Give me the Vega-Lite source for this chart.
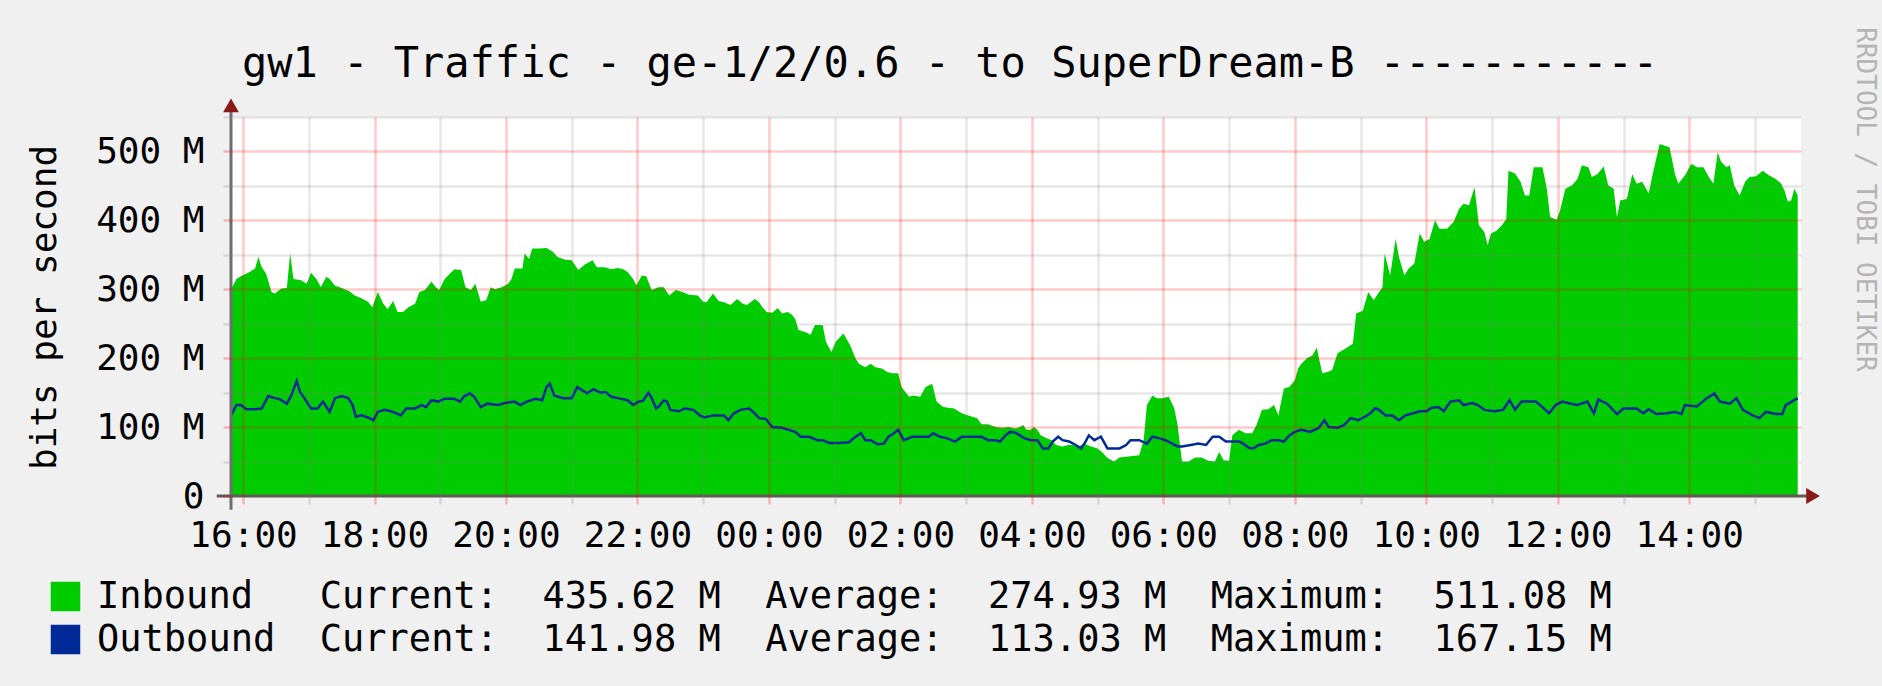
{
  "$schema": "https://vega.github.io/schema/vega-lite/v6.json",
  "width": 1570,
  "height": 379,
  "autosize": {"type": "none"},
  "padding": {"left": 231, "top": 117, "right": 81, "bottom": 190},
  "background": "#f0f0f0",
  "config": {"view": {"stroke": null, "fill": "#ffffff"}, "font": "DejaVu Sans Mono"},
  "title": {"text": "gw1 - Traffic - ge-1/2/0.6 - to SuperDream-B -----------", "frame": "group", "anchor": "middle", "dx": -66, "offset": -92, "baseline": "alphabetic", "font": "DejaVu Sans Mono", "fontSize": 42, "fontWeight": "normal", "color": "#000000"},
  "datasets": {
    "inbound": [
      {"t":"2024-01-01T15:49Z","v":300},{"t":"2024-01-01T15:54Z","v":315},{"t":"2024-01-01T15:58Z","v":319},{"t":"2024-01-01T16:06Z","v":325},{"t":"2024-01-01T16:11Z","v":330},{"t":"2024-01-01T16:14Z","v":347},{"t":"2024-01-01T16:17Z","v":332},{"t":"2024-01-01T16:21Z","v":323},{"t":"2024-01-01T16:26Z","v":296},{"t":"2024-01-01T16:29Z","v":294},{"t":"2024-01-01T16:35Z","v":301},{"t":"2024-01-01T16:40Z","v":302},{"t":"2024-01-01T16:43Z","v":352},{"t":"2024-01-01T16:46Z","v":315},{"t":"2024-01-01T16:53Z","v":313},{"t":"2024-01-01T16:58Z","v":308},{"t":"2024-01-01T17:02Z","v":324},{"t":"2024-01-01T17:07Z","v":315},{"t":"2024-01-01T17:11Z","v":303},{"t":"2024-01-01T17:16Z","v":318},{"t":"2024-01-01T17:19Z","v":315},{"t":"2024-01-01T17:24Z","v":305},{"t":"2024-01-01T17:30Z","v":302},{"t":"2024-01-01T17:37Z","v":297},{"t":"2024-01-01T17:42Z","v":291},{"t":"2024-01-01T17:48Z","v":287},{"t":"2024-01-01T17:54Z","v":282},{"t":"2024-01-01T17:58Z","v":274},{"t":"2024-01-01T18:03Z","v":296},{"t":"2024-01-01T18:08Z","v":279},{"t":"2024-01-01T18:12Z","v":271},{"t":"2024-01-01T18:17Z","v":283},{"t":"2024-01-01T18:21Z","v":267},{"t":"2024-01-01T18:26Z","v":267},{"t":"2024-01-01T18:31Z","v":274},{"t":"2024-01-01T18:37Z","v":279},{"t":"2024-01-01T18:41Z","v":296},{"t":"2024-01-01T18:46Z","v":299},{"t":"2024-01-01T18:52Z","v":311},{"t":"2024-01-01T18:56Z","v":303},{"t":"2024-01-01T18:59Z","v":299},{"t":"2024-01-01T19:04Z","v":315},{"t":"2024-01-01T19:09Z","v":323},{"t":"2024-01-01T19:13Z","v":329},{"t":"2024-01-01T19:19Z","v":328},{"t":"2024-01-01T19:23Z","v":303},{"t":"2024-01-01T19:28Z","v":299},{"t":"2024-01-01T19:32Z","v":308},{"t":"2024-01-01T19:37Z","v":282},{"t":"2024-01-01T19:42Z","v":284},{"t":"2024-01-01T19:46Z","v":303},{"t":"2024-01-01T19:50Z","v":300},{"t":"2024-01-01T19:56Z","v":303},{"t":"2024-01-01T20:02Z","v":308},{"t":"2024-01-01T20:05Z","v":315},{"t":"2024-01-01T20:08Z","v":330},{"t":"2024-01-01T20:15Z","v":330},{"t":"2024-01-01T20:17Z","v":352},{"t":"2024-01-01T20:21Z","v":344},{"t":"2024-01-01T20:24Z","v":359},{"t":"2024-01-01T20:30Z","v":359},{"t":"2024-01-01T20:37Z","v":360},{"t":"2024-01-01T20:43Z","v":354},{"t":"2024-01-01T20:47Z","v":347},{"t":"2024-01-01T20:54Z","v":343},{"t":"2024-01-01T21:00Z","v":342},{"t":"2024-01-01T21:06Z","v":328},{"t":"2024-01-01T21:12Z","v":336},{"t":"2024-01-01T21:19Z","v":342},{"t":"2024-01-01T21:23Z","v":332},{"t":"2024-01-01T21:30Z","v":332},{"t":"2024-01-01T21:36Z","v":329},{"t":"2024-01-01T21:42Z","v":331},{"t":"2024-01-01T21:47Z","v":329},{"t":"2024-01-01T21:51Z","v":325},{"t":"2024-01-01T21:56Z","v":315},{"t":"2024-01-01T21:59Z","v":306},{"t":"2024-01-01T22:04Z","v":320},{"t":"2024-01-01T22:08Z","v":319},{"t":"2024-01-01T22:13Z","v":299},{"t":"2024-01-01T22:19Z","v":303},{"t":"2024-01-01T22:24Z","v":303},{"t":"2024-01-01T22:29Z","v":291},{"t":"2024-01-01T22:35Z","v":299},{"t":"2024-01-01T22:41Z","v":296},{"t":"2024-01-01T22:47Z","v":292},{"t":"2024-01-01T22:55Z","v":291},{"t":"2024-01-01T23:00Z","v":282},{"t":"2024-01-01T23:03Z","v":281},{"t":"2024-01-01T23:09Z","v":294},{"t":"2024-01-01T23:14Z","v":283},{"t":"2024-01-01T23:19Z","v":281},{"t":"2024-01-01T23:25Z","v":277},{"t":"2024-01-01T23:31Z","v":286},{"t":"2024-01-01T23:36Z","v":279},{"t":"2024-01-01T23:40Z","v":277},{"t":"2024-01-01T23:47Z","v":286},{"t":"2024-01-01T23:51Z","v":281},{"t":"2024-01-01T23:54Z","v":274},{"t":"2024-01-01T23:58Z","v":267},
      {"t":"2024-01-02T00:03Z","v":266},{"t":"2024-01-02T00:08Z","v":273},{"t":"2024-01-02T00:12Z","v":265},{"t":"2024-01-02T00:17Z","v":267},{"t":"2024-01-02T00:21Z","v":263},{"t":"2024-01-02T00:24Z","v":257},{"t":"2024-01-02T00:27Z","v":241},{"t":"2024-01-02T00:33Z","v":238},{"t":"2024-01-02T00:38Z","v":234},{"t":"2024-01-02T00:42Z","v":248},{"t":"2024-01-02T00:49Z","v":248},{"t":"2024-01-02T00:52Z","v":224},{"t":"2024-01-02T00:57Z","v":209},{"t":"2024-01-02T01:01Z","v":224},{"t":"2024-01-02T01:08Z","v":236},{"t":"2024-01-02T01:14Z","v":219},{"t":"2024-01-02T01:19Z","v":200},{"t":"2024-01-02T01:22Z","v":192},{"t":"2024-01-02T01:28Z","v":187},{"t":"2024-01-02T01:33Z","v":192},{"t":"2024-01-02T01:37Z","v":187},{"t":"2024-01-02T01:43Z","v":185},{"t":"2024-01-02T01:48Z","v":180},{"t":"2024-01-02T01:52Z","v":178},{"t":"2024-01-02T01:58Z","v":178},{"t":"2024-01-02T02:01Z","v":158},{"t":"2024-01-02T02:08Z","v":144},{"t":"2024-01-02T02:12Z","v":146},{"t":"2024-01-02T02:18Z","v":144},{"t":"2024-01-02T02:23Z","v":158},{"t":"2024-01-02T02:29Z","v":163},{"t":"2024-01-02T02:33Z","v":137},{"t":"2024-01-02T02:39Z","v":129},{"t":"2024-01-02T02:49Z","v":127},{"t":"2024-01-02T02:56Z","v":120},{"t":"2024-01-02T03:02Z","v":117},{"t":"2024-01-02T03:10Z","v":113},{"t":"2024-01-02T03:14Z","v":104},{"t":"2024-01-02T03:20Z","v":104},{"t":"2024-01-02T03:27Z","v":100},{"t":"2024-01-02T03:33Z","v":99},{"t":"2024-01-02T03:39Z","v":100},{"t":"2024-01-02T03:45Z","v":98},{"t":"2024-01-02T03:49Z","v":100},{"t":"2024-01-02T03:52Z","v":103},{"t":"2024-01-02T03:55Z","v":96},{"t":"2024-01-02T03:59Z","v":96},{"t":"2024-01-02T04:02Z","v":100},{"t":"2024-01-02T04:05Z","v":96},{"t":"2024-01-02T04:08Z","v":88},{"t":"2024-01-02T04:13Z","v":84},{"t":"2024-01-02T04:18Z","v":81},{"t":"2024-01-02T04:22Z","v":74},{"t":"2024-01-02T04:28Z","v":72},{"t":"2024-01-02T04:33Z","v":74},{"t":"2024-01-02T04:37Z","v":74},{"t":"2024-01-02T04:42Z","v":72},{"t":"2024-01-02T04:48Z","v":76},{"t":"2024-01-02T04:54Z","v":72},{"t":"2024-01-02T05:00Z","v":69},{"t":"2024-01-02T05:04Z","v":64},{"t":"2024-01-02T05:09Z","v":55},{"t":"2024-01-02T05:15Z","v":50},{"t":"2024-01-02T05:20Z","v":56},{"t":"2024-01-02T05:26Z","v":57},{"t":"2024-01-02T05:32Z","v":58},{"t":"2024-01-02T05:38Z","v":59},{"t":"2024-01-02T05:42Z","v":81},{"t":"2024-01-02T05:45Z","v":132},{"t":"2024-01-02T05:50Z","v":146},{"t":"2024-01-02T05:54Z","v":142},{"t":"2024-01-02T05:59Z","v":142},{"t":"2024-01-02T06:05Z","v":144},{"t":"2024-01-02T06:10Z","v":127},{"t":"2024-01-02T06:13Z","v":103},{"t":"2024-01-02T06:17Z","v":50},{"t":"2024-01-02T06:23Z","v":50},{"t":"2024-01-02T06:29Z","v":56},{"t":"2024-01-02T06:35Z","v":56},{"t":"2024-01-02T06:41Z","v":51},{"t":"2024-01-02T06:47Z","v":50},{"t":"2024-01-02T06:51Z","v":64},{"t":"2024-01-02T06:55Z","v":52},{"t":"2024-01-02T07:00Z","v":51},{"t":"2024-01-02T07:03Z","v":88},{"t":"2024-01-02T07:09Z","v":96},{"t":"2024-01-02T07:15Z","v":91},{"t":"2024-01-02T07:21Z","v":91},{"t":"2024-01-02T07:25Z","v":103},{"t":"2024-01-02T07:30Z","v":125},{"t":"2024-01-02T07:36Z","v":126},{"t":"2024-01-02T07:41Z","v":132},{"t":"2024-01-02T07:45Z","v":117},{"t":"2024-01-02T07:50Z","v":156},{"t":"2024-01-02T07:55Z","v":158},{"t":"2024-01-02T08:00Z","v":168},{"t":"2024-01-02T08:03Z","v":185},{"t":"2024-01-02T08:06Z","v":192},{"t":"2024-01-02T08:11Z","v":200},{"t":"2024-01-02T08:16Z","v":204},{"t":"2024-01-02T08:20Z","v":215},{"t":"2024-01-02T08:25Z","v":178},{"t":"2024-01-02T08:30Z","v":180},{"t":"2024-01-02T08:34Z","v":183},{"t":"2024-01-02T08:39Z","v":207},{"t":"2024-01-02T08:44Z","v":212},{"t":"2024-01-02T08:48Z","v":216},{"t":"2024-01-02T08:53Z","v":221},{"t":"2024-01-02T08:56Z","v":265},{"t":"2024-01-02T09:02Z","v":269},{"t":"2024-01-02T09:07Z","v":296},{"t":"2024-01-02T09:12Z","v":284},{"t":"2024-01-02T09:16Z","v":294},{"t":"2024-01-02T09:20Z","v":303},{"t":"2024-01-02T09:22Z","v":352},{"t":"2024-01-02T09:27Z","v":320},{"t":"2024-01-02T09:32Z","v":373},{"t":"2024-01-02T09:35Z","v":347},{"t":"2024-01-02T09:40Z","v":320},{"t":"2024-01-02T09:44Z","v":330},{"t":"2024-01-02T09:49Z","v":337},{"t":"2024-01-02T09:54Z","v":381},{"t":"2024-01-02T09:58Z","v":369},{"t":"2024-01-02T10:03Z","v":373},{"t":"2024-01-02T10:08Z","v":400},{"t":"2024-01-02T10:12Z","v":388},{"t":"2024-01-02T10:19Z","v":388},{"t":"2024-01-02T10:25Z","v":398},{"t":"2024-01-02T10:30Z","v":417},{"t":"2024-01-02T10:34Z","v":424},{"t":"2024-01-02T10:39Z","v":422},{"t":"2024-01-02T10:44Z","v":448},{"t":"2024-01-02T10:48Z","v":393},{"t":"2024-01-02T10:53Z","v":383},{"t":"2024-01-02T10:56Z","v":364},{"t":"2024-01-02T10:59Z","v":381},{"t":"2024-01-02T11:04Z","v":385},{"t":"2024-01-02T11:09Z","v":393},{"t":"2024-01-02T11:13Z","v":402},{"t":"2024-01-02T11:15Z","v":472},{"t":"2024-01-02T11:21Z","v":468},{"t":"2024-01-02T11:26Z","v":456},{"t":"2024-01-02T11:30Z","v":436},{"t":"2024-01-02T11:34Z","v":436},{"t":"2024-01-02T11:38Z","v":477},{"t":"2024-01-02T11:46Z","v":477},{"t":"2024-01-02T11:50Z","v":446},{"t":"2024-01-02T11:53Z","v":405},{"t":"2024-01-02T11:59Z","v":401},{"t":"2024-01-02T12:02Z","v":414},{"t":"2024-01-02T12:07Z","v":446},{"t":"2024-01-02T12:13Z","v":451},{"t":"2024-01-02T12:18Z","v":460},{"t":"2024-01-02T12:22Z","v":480},{"t":"2024-01-02T12:28Z","v":477},{"t":"2024-01-02T12:31Z","v":463},{"t":"2024-01-02T12:36Z","v":467},{"t":"2024-01-02T12:42Z","v":478},{"t":"2024-01-02T12:46Z","v":451},{"t":"2024-01-02T12:51Z","v":446},{"t":"2024-01-02T12:54Z","v":405},{"t":"2024-01-02T12:57Z","v":429},{"t":"2024-01-02T13:03Z","v":431},{"t":"2024-01-02T13:08Z","v":467},{"t":"2024-01-02T13:12Z","v":453},{"t":"2024-01-02T13:17Z","v":456},{"t":"2024-01-02T13:23Z","v":439},{"t":"2024-01-02T13:27Z","v":470},{"t":"2024-01-02T13:33Z","v":511},{"t":"2024-01-02T13:42Z","v":506},{"t":"2024-01-02T13:47Z","v":467},{"t":"2024-01-02T13:50Z","v":453},{"t":"2024-01-02T13:56Z","v":465},{"t":"2024-01-02T14:02Z","v":482},{"t":"2024-01-02T14:07Z","v":477},{"t":"2024-01-02T14:13Z","v":477},{"t":"2024-01-02T14:17Z","v":465},{"t":"2024-01-02T14:22Z","v":453},{"t":"2024-01-02T14:26Z","v":499},{"t":"2024-01-02T14:29Z","v":485},{"t":"2024-01-02T14:34Z","v":477},{"t":"2024-01-02T14:37Z","v":480},{"t":"2024-01-02T14:41Z","v":451},{"t":"2024-01-02T14:46Z","v":436},{"t":"2024-01-02T14:51Z","v":456},{"t":"2024-01-02T14:55Z","v":463},{"t":"2024-01-02T15:01Z","v":464},{"t":"2024-01-02T15:07Z","v":472},{"t":"2024-01-02T15:13Z","v":465},{"t":"2024-01-02T15:19Z","v":460},{"t":"2024-01-02T15:24Z","v":453},{"t":"2024-01-02T15:27Z","v":443},{"t":"2024-01-02T15:30Z","v":427},{"t":"2024-01-02T15:33Z","v":429},{"t":"2024-01-02T15:36Z","v":446},{"t":"2024-01-02T15:39Z","v":436}
    ],
    "outbound": [
      {"t":"2024-01-01T15:49Z","v":117},{"t":"2024-01-01T15:54Z","v":132},{"t":"2024-01-01T15:58Z","v":132},{"t":"2024-01-01T16:03Z","v":126},{"t":"2024-01-01T16:11Z","v":126},{"t":"2024-01-01T16:17Z","v":127},{"t":"2024-01-01T16:23Z","v":145},{"t":"2024-01-01T16:29Z","v":142},{"t":"2024-01-01T16:33Z","v":141},{"t":"2024-01-01T16:40Z","v":134},{"t":"2024-01-01T16:44Z","v":146},{"t":"2024-01-01T16:49Z","v":167},{"t":"2024-01-01T16:52Z","v":151},{"t":"2024-01-01T16:56Z","v":142},{"t":"2024-01-01T17:02Z","v":127},{"t":"2024-01-01T17:08Z","v":127},{"t":"2024-01-01T17:13Z","v":137},{"t":"2024-01-01T17:19Z","v":122},{"t":"2024-01-01T17:24Z","v":142},{"t":"2024-01-01T17:30Z","v":145},{"t":"2024-01-01T17:36Z","v":142},{"t":"2024-01-01T17:40Z","v":132},{"t":"2024-01-01T17:43Z","v":115},{"t":"2024-01-01T17:48Z","v":117},{"t":"2024-01-01T17:54Z","v":114},{"t":"2024-01-01T17:59Z","v":110},{"t":"2024-01-01T18:03Z","v":122},{"t":"2024-01-01T18:09Z","v":125},{"t":"2024-01-01T18:15Z","v":123},{"t":"2024-01-01T18:20Z","v":120},{"t":"2024-01-01T18:24Z","v":117},{"t":"2024-01-01T18:29Z","v":127},{"t":"2024-01-01T18:37Z","v":127},{"t":"2024-01-01T18:43Z","v":132},{"t":"2024-01-01T18:47Z","v":129},{"t":"2024-01-01T18:52Z","v":139},{"t":"2024-01-01T18:58Z","v":137},{"t":"2024-01-01T19:04Z","v":141},{"t":"2024-01-01T19:13Z","v":141},{"t":"2024-01-01T19:18Z","v":137},{"t":"2024-01-01T19:22Z","v":145},{"t":"2024-01-01T19:27Z","v":149},{"t":"2024-01-01T19:31Z","v":144},{"t":"2024-01-01T19:37Z","v":129},{"t":"2024-01-01T19:43Z","v":134},{"t":"2024-01-01T19:53Z","v":132},{"t":"2024-01-01T19:59Z","v":135},{"t":"2024-01-01T20:08Z","v":137},{"t":"2024-01-01T20:13Z","v":132},{"t":"2024-01-01T20:19Z","v":137},{"t":"2024-01-01T20:27Z","v":141},{"t":"2024-01-01T20:33Z","v":139},{"t":"2024-01-01T20:37Z","v":158},{"t":"2024-01-01T20:40Z","v":163},{"t":"2024-01-01T20:44Z","v":146},{"t":"2024-01-01T20:52Z","v":142},{"t":"2024-01-01T21:00Z","v":142},{"t":"2024-01-01T21:05Z","v":158},{"t":"2024-01-01T21:09Z","v":154},{"t":"2024-01-01T21:14Z","v":149},{"t":"2024-01-01T21:20Z","v":155},{"t":"2024-01-01T21:26Z","v":150},{"t":"2024-01-01T21:31Z","v":151},{"t":"2024-01-01T21:36Z","v":144},{"t":"2024-01-01T21:42Z","v":142},{"t":"2024-01-01T21:51Z","v":139},{"t":"2024-01-01T21:56Z","v":132},{"t":"2024-01-01T22:01Z","v":137},{"t":"2024-01-01T22:05Z","v":138},{"t":"2024-01-01T22:10Z","v":150},{"t":"2024-01-01T22:13Z","v":142},{"t":"2024-01-01T22:17Z","v":127},{"t":"2024-01-01T22:19Z","v":129},{"t":"2024-01-01T22:24Z","v":139},{"t":"2024-01-01T22:27Z","v":137},{"t":"2024-01-01T22:30Z","v":125},{"t":"2024-01-01T22:38Z","v":123},{"t":"2024-01-01T22:43Z","v":127},{"t":"2024-01-01T22:51Z","v":125},{"t":"2024-01-01T22:57Z","v":117},{"t":"2024-01-01T23:01Z","v":114},{"t":"2024-01-01T23:09Z","v":117},{"t":"2024-01-01T23:19Z","v":117},{"t":"2024-01-01T23:23Z","v":110},{"t":"2024-01-01T23:28Z","v":120},{"t":"2024-01-01T23:34Z","v":125},{"t":"2024-01-01T23:42Z","v":127},{"t":"2024-01-01T23:47Z","v":120},{"t":"2024-01-01T23:51Z","v":113},{"t":"2024-01-01T23:57Z","v":112},
      {"t":"2024-01-02T00:03Z","v":100},{"t":"2024-01-02T00:12Z","v":99},{"t":"2024-01-02T00:18Z","v":96},{"t":"2024-01-02T00:24Z","v":93},{"t":"2024-01-02T00:29Z","v":86},{"t":"2024-01-02T00:37Z","v":86},{"t":"2024-01-02T00:44Z","v":81},{"t":"2024-01-02T00:49Z","v":81},{"t":"2024-01-02T00:55Z","v":77},{"t":"2024-01-02T01:04Z","v":77},{"t":"2024-01-02T01:13Z","v":78},{"t":"2024-01-02T01:19Z","v":86},{"t":"2024-01-02T01:24Z","v":91},{"t":"2024-01-02T01:28Z","v":81},{"t":"2024-01-02T01:33Z","v":81},{"t":"2024-01-02T01:39Z","v":75},{"t":"2024-01-02T01:45Z","v":76},{"t":"2024-01-02T01:49Z","v":86},{"t":"2024-01-02T01:54Z","v":91},{"t":"2024-01-02T01:58Z","v":96},{"t":"2024-01-02T02:03Z","v":81},{"t":"2024-01-02T02:11Z","v":86},{"t":"2024-01-02T02:20Z","v":86},{"t":"2024-01-02T02:26Z","v":86},{"t":"2024-01-02T02:30Z","v":91},{"t":"2024-01-02T02:36Z","v":86},{"t":"2024-01-02T02:42Z","v":84},{"t":"2024-01-02T02:50Z","v":79},{"t":"2024-01-02T02:56Z","v":86},{"t":"2024-01-02T03:05Z","v":86},{"t":"2024-01-02T03:14Z","v":86},{"t":"2024-01-02T03:20Z","v":81},{"t":"2024-01-02T03:27Z","v":81},{"t":"2024-01-02T03:31Z","v":79},{"t":"2024-01-02T03:36Z","v":88},{"t":"2024-01-02T03:40Z","v":93},{"t":"2024-01-02T03:45Z","v":92},{"t":"2024-01-02T03:49Z","v":88},{"t":"2024-01-02T03:53Z","v":84},{"t":"2024-01-02T03:59Z","v":81},{"t":"2024-01-02T04:05Z","v":81},{"t":"2024-01-02T04:10Z","v":69},{"t":"2024-01-02T04:15Z","v":69},{"t":"2024-01-02T04:19Z","v":79},{"t":"2024-01-02T04:24Z","v":86},{"t":"2024-01-02T04:28Z","v":81},{"t":"2024-01-02T04:34Z","v":79},{"t":"2024-01-02T04:40Z","v":74},{"t":"2024-01-02T04:45Z","v":69},{"t":"2024-01-02T04:49Z","v":79},{"t":"2024-01-02T04:52Z","v":88},{"t":"2024-01-02T04:57Z","v":81},{"t":"2024-01-02T05:03Z","v":86},{"t":"2024-01-02T05:09Z","v":69},{"t":"2024-01-02T05:20Z","v":69},{"t":"2024-01-02T05:26Z","v":74},{"t":"2024-01-02T05:30Z","v":81},{"t":"2024-01-02T05:38Z","v":81},{"t":"2024-01-02T05:45Z","v":76},{"t":"2024-01-02T05:50Z","v":86},{"t":"2024-01-02T05:56Z","v":84},{"t":"2024-01-02T06:02Z","v":81},{"t":"2024-01-02T06:08Z","v":76},{"t":"2024-01-02T06:13Z","v":72},{"t":"2024-01-02T06:17Z","v":72},{"t":"2024-01-02T06:25Z","v":74},{"t":"2024-01-02T06:32Z","v":76},{"t":"2024-01-02T06:39Z","v":74},{"t":"2024-01-02T06:45Z","v":86},{"t":"2024-01-02T06:51Z","v":86},{"t":"2024-01-02T06:57Z","v":79},{"t":"2024-01-02T07:09Z","v":79},{"t":"2024-01-02T07:13Z","v":76},{"t":"2024-01-02T07:18Z","v":70},{"t":"2024-01-02T07:22Z","v":69},{"t":"2024-01-02T07:27Z","v":74},{"t":"2024-01-02T07:33Z","v":76},{"t":"2024-01-02T07:39Z","v":81},{"t":"2024-01-02T07:45Z","v":81},{"t":"2024-01-02T07:50Z","v":79},{"t":"2024-01-02T07:55Z","v":88},{"t":"2024-01-02T08:00Z","v":93},{"t":"2024-01-02T08:06Z","v":96},{"t":"2024-01-02T08:14Z","v":93},{"t":"2024-01-02T08:22Z","v":99},{"t":"2024-01-02T08:27Z","v":110},{"t":"2024-01-02T08:31Z","v":100},{"t":"2024-01-02T08:39Z","v":99},{"t":"2024-01-02T08:45Z","v":103},{"t":"2024-01-02T08:51Z","v":113},{"t":"2024-01-02T08:58Z","v":110},{"t":"2024-01-02T09:04Z","v":115},{"t":"2024-01-02T09:09Z","v":120},{"t":"2024-01-02T09:13Z","v":127},{"t":"2024-01-02T09:16Z","v":126},{"t":"2024-01-02T09:23Z","v":117},{"t":"2024-01-02T09:29Z","v":117},{"t":"2024-01-02T09:35Z","v":110},{"t":"2024-01-02T09:41Z","v":117},{"t":"2024-01-02T09:48Z","v":120},{"t":"2024-01-02T09:54Z","v":123},{"t":"2024-01-02T10:00Z","v":123},{"t":"2024-01-02T10:05Z","v":128},{"t":"2024-01-02T10:11Z","v":129},{"t":"2024-01-02T10:16Z","v":123},{"t":"2024-01-02T10:22Z","v":137},{"t":"2024-01-02T10:30Z","v":139},{"t":"2024-01-02T10:34Z","v":132},{"t":"2024-01-02T10:42Z","v":135},{"t":"2024-01-02T10:47Z","v":132},{"t":"2024-01-02T10:53Z","v":125},{"t":"2024-01-02T11:02Z","v":123},{"t":"2024-01-02T11:10Z","v":125},{"t":"2024-01-02T11:16Z","v":139},{"t":"2024-01-02T11:21Z","v":125},{"t":"2024-01-02T11:27Z","v":137},{"t":"2024-01-02T11:40Z","v":137},{"t":"2024-01-02T11:46Z","v":129},{"t":"2024-01-02T11:52Z","v":120},{"t":"2024-01-02T11:58Z","v":132},{"t":"2024-01-02T12:04Z","v":137},{"t":"2024-01-02T12:12Z","v":134},{"t":"2024-01-02T12:18Z","v":132},{"t":"2024-01-02T12:27Z","v":137},{"t":"2024-01-02T12:33Z","v":120},{"t":"2024-01-02T12:37Z","v":140},{"t":"2024-01-02T12:45Z","v":134},{"t":"2024-01-02T12:54Z","v":119},{"t":"2024-01-02T13:00Z","v":127},{"t":"2024-01-02T13:12Z","v":127},{"t":"2024-01-02T13:18Z","v":120},{"t":"2024-01-02T13:23Z","v":126},{"t":"2024-01-02T13:30Z","v":119},{"t":"2024-01-02T13:39Z","v":120},{"t":"2024-01-02T13:47Z","v":122},{"t":"2024-01-02T13:53Z","v":119},{"t":"2024-01-02T13:56Z","v":132},{"t":"2024-01-02T14:07Z","v":130},{"t":"2024-01-02T14:16Z","v":142},{"t":"2024-01-02T14:23Z","v":149},{"t":"2024-01-02T14:28Z","v":137},{"t":"2024-01-02T14:37Z","v":134},{"t":"2024-01-02T14:43Z","v":142},{"t":"2024-01-02T14:49Z","v":125},{"t":"2024-01-02T14:58Z","v":117},{"t":"2024-01-02T15:04Z","v":113},{"t":"2024-01-02T15:10Z","v":122},{"t":"2024-01-02T15:19Z","v":119},{"t":"2024-01-02T15:25Z","v":119},{"t":"2024-01-02T15:28Z","v":132},{"t":"2024-01-02T15:39Z","v":142}
    ]
  },
  "resolve": {"axis": {"y": "independent"}},
  "layer": [
    {
      "data": {"name": "inbound"},
      "mark": {"type": "area", "interpolate": "linear", "opacity": 1},
      "encoding": {
        "x": {"field": "t", "type": "temporal", "title": null,
          "scale": {"type": "utc", "domain": [1704124140000, 1704210120000], "nice": false},
          "axis": {
            "title": null,
            "values": [1704124800000,1704126600000,1704128400000,1704130200000,1704132000000,1704133800000,1704135600000,1704137400000,1704139200000,1704141000000,1704142800000,1704144600000,1704146400000,1704148200000,1704150000000,1704151800000,1704153600000,1704155400000,1704157200000,1704159000000,1704160800000,1704162600000,1704164400000,1704166200000,1704168000000,1704169800000,1704171600000,1704173400000,1704175200000,1704177000000,1704178800000,1704180600000,1704182400000,1704184200000,1704186000000,1704187800000,1704189600000,1704191400000,1704193200000,1704195000000,1704196800000,1704198600000,1704200400000,1704202200000,1704204000000,1704205800000,1704207600000,1704209400000],
            "labelExpr": "utchours(datum.value) % 2 == 0 && utcminutes(datum.value) == 0 ? utcFormat(datum.value, '%H:%M') : ''",
            "labelFont": "DejaVu Sans Mono", "labelFontSize": 36, "labelColor": "#000000",
            "labelOverlap": false, "labelFlush": false, "labelBound": false, "labelPadding": 14,
            "domain": false,
            "ticks": true,
            "tickSize": 8,
            "tickColor": {"condition": {"test": "utchours(datum.value) % 2 == 0 && utcminutes(datum.value) == 0", "value": "rgba(255,0,0,0.25)"}, "value": "rgba(128,128,128,0.22)"},
            "tickWidth": 2.5,
            "grid": true,
            "gridColor": {"condition": {"test": "utchours(datum.value) % 2 == 0 && utcminutes(datum.value) == 0", "value": "rgba(255,0,0,0.21)"}, "value": "rgba(128,128,128,0.19)"},
            "gridWidth": 2.5,
            "zindex": 1
          }
        },
        "y": {"field": "v", "type": "quantitative", "title": "bits per second",
          "scale": {"domain": [0, 550], "nice": false},
          "axis": {
            "orient": "left",
            "values": [0, 50, 100, 150, 200, 250, 300, 350, 400, 450, 500, 550],
            "labelExpr": "datum.value == 0 ? '0' : (datum.value % 100 == 0 ? datum.value + ' M' : '')",
            "labelFont": "DejaVu Sans Mono", "labelFontSize": 36, "labelColor": "#000000",
            "labelOverlap": false, "labelBound": false, "labelPadding": 19,
            "domain": false,
            "tickSize": 8,
            "tickColor": {"condition": {"test": "datum.value % 100 == 0", "value": "rgba(255,0,0,0.25)"}, "value": "rgba(128,128,128,0.22)"},
            "tickWidth": 2.5,
            "grid": true,
            "gridColor": {"condition": {"test": "datum.value % 100 == 0", "value": "rgba(255,0,0,0.21)"}, "value": "rgba(128,128,128,0.19)"},
            "gridOpacity": {"condition": {"test": "datum.value == 0", "value": 0}, "value": 1},
            "gridWidth": 2.5,
            "title": "bits per second",
            "titleFont": "DejaVu Sans Mono", "titleFontSize": 36, "titleFontWeight": "normal", "titleColor": "#000000",
            "titleAngle": -90, "titleX": -187, "titleY": 190, "titleBaseline": "middle", "titleAlign": "center",
            "zindex": 1
          }
        },
        "color": {"datum": "Inbound",
          "scale": {"domain": ["Inbound", "Outbound"], "range": ["#00cc00", "#002a97"]},
          "legend": {
            "orient": "none", "legendX": -184, "legendY": 461, "direction": "vertical", "title": null,
            "symbolType": "square", "symbolSize": 729, "symbolStrokeColor": "#000000", "symbolStrokeWidth": 2.5, "symbolOpacity": 1,
            "labelFont": "DejaVu Sans Mono", "labelFontSize": 37, "labelColor": "#000000", "labelLimit": 0, "labelOffset": 13, "rowPadding": 5,
            "labelExpr": "datum.label == 'Inbound' ? 'Inbound\u00a0\u00a0\u00a0Current:\u00a0\u00a0435.62\u00a0M\u00a0\u00a0Average:\u00a0\u00a0274.93\u00a0M\u00a0\u00a0Maximum:\u00a0\u00a0511.08\u00a0M' : 'Outbound\u00a0\u00a0Current:\u00a0\u00a0141.98\u00a0M\u00a0\u00a0Average:\u00a0\u00a0113.03\u00a0M\u00a0\u00a0Maximum:\u00a0\u00a0167.15\u00a0M'",
            "encode": {"symbols": {"update": {"fill": {"scale": "color", "field": "value"}, "stroke": {"value": "#000000"}, "strokeWidth": {"value": 2.5}, "opacity": {"value": 1}}}}
          }
        }
      }
    },
    {
      "data": {"name": "outbound"},
      "mark": {"type": "line", "interpolate": "linear", "strokeWidth": 2.5},
      "encoding": {
        "x": {"field": "t", "type": "temporal", "title": null,
          "scale": {"type": "utc", "domain": [1704124140000, 1704210120000], "nice": false}},
        "y": {"field": "v", "type": "quantitative",
          "scale": {"domain": [0, 550], "nice": false},
          "axis": {
            "orient": "right", "title": "RRDTOOL / TOBI OETIKER",
            "labels": false, "ticks": false, "domain": false, "grid": false,
            "titleAngle": 90, "titleFont": "DejaVu Sans Mono", "titleFontSize": 26, "titleFontWeight": "normal", "titleColor": "#b4b4b4",
            "titleX": 63, "titleY": 82, "titleBaseline": "middle", "titleAlign": "center"
          }
        },
        "color": {"datum": "Outbound"}
      }
    },
    {
      "data": {"values": [{}]},
      "mark": {"type": "rule", "color": "#6e6e6e", "strokeWidth": 3},
      "encoding": {
        "x": {"datum": 1704124140000, "type": "temporal", "title": null,
          "scale": {"type": "utc", "domain": [1704124140000, 1704210120000], "nice": false}},
        "y": {"datum": -20, "type": "quantitative", "axis": null, "scale": {"domain": [0, 550], "nice": false}},
        "y2": {"datum": 562}
      }
    },
    {
      "data": {"values": [{}]},
      "mark": {"type": "rule", "color": "#625a55", "strokeWidth": 3},
      "encoding": {
        "x": {"datum": 1704123360000, "type": "temporal", "title": null,
          "scale": {"type": "utc", "domain": [1704124140000, 1704210120000], "nice": false}},
        "x2": {"datum": 1704210660000},
        "y": {"datum": 0, "type": "quantitative", "axis": null, "scale": {"domain": [0, 550], "nice": false}}
      }
    },
    {
      "data": {"values": [{}]},
      "mark": {"type": "point", "shape": "triangle-up", "filled": true, "color": "#8b1a1a", "size": 250, "opacity": 1},
      "encoding": {
        "x": {"datum": 1704124140000, "type": "temporal", "title": null,
          "scale": {"type": "utc", "domain": [1704124140000, 1704210120000], "nice": false}},
        "y": {"datum": 567, "type": "quantitative", "axis": null, "scale": {"domain": [0, 550], "nice": false}}
      }
    },
    {
      "data": {"values": [{}]},
      "mark": {"type": "point", "shape": "triangle-right", "filled": true, "color": "#8b1a1a", "size": 250, "opacity": 1},
      "encoding": {
        "x": {"datum": 1704210780000, "type": "temporal", "title": null,
          "scale": {"type": "utc", "domain": [1704124140000, 1704210120000], "nice": false}},
        "y": {"datum": 0, "type": "quantitative", "axis": null, "scale": {"domain": [0, 550], "nice": false}}
      }
    }
  ]
}
